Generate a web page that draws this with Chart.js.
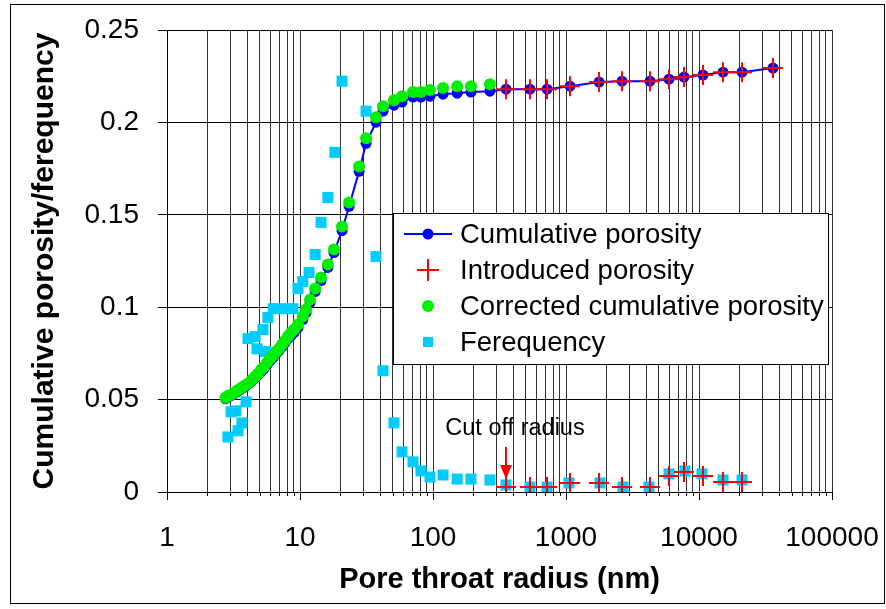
<!DOCTYPE html>
<html>
<head>
<meta charset="utf-8">
<script src="https://cdn.jsdelivr.net/npm/chart.js@4.4.1/dist/chart.umd.min.js"></script>
<style>
  html, body { margin: 0; padding: 0; background: #fff; }
  #wrap { width: 886px; height: 609px; }
</style>
</head>
<body>
<div id="wrap"><canvas id="myChart" width="886" height="609"></canvas></div>
<script>
// pore throat radius (nm) for the cumulative curves
const cumRadius = [2.75, 2.88, 3.03, 3.19, 3.36, 3.54, 3.73, 3.93, 4.14, 4.36, 4.59, 4.83, 5.09, 5.36, 5.65,
  5.95, 6.27, 6.60, 6.95, 7.32, 7.71, 8.12, 8.56, 9.02, 9.66, 10.5, 11.1, 11.9, 13.0, 14.4, 16.2, 18.0, 20.7,
  23.4, 27.8, 31.4, 37.3, 42.1, 50.9, 58.5, 70.7, 81.2, 94.9, 119, 152, 193, 268]
const cumPorosity = [0.0504, 0.0515, 0.0521, 0.0531, 0.0542, 0.0553, 0.0564, 0.0575, 0.0586, 0.0602, 0.0618,
  0.0634, 0.0651, 0.0667, 0.0689, 0.0710, 0.0727, 0.0748, 0.0765, 0.0786, 0.0808, 0.0830, 0.0846, 0.0862,
  0.0889, 0.0933, 0.0971, 0.1025, 0.1085, 0.1144, 0.1215, 0.1296, 0.1415, 0.1546, 0.1735, 0.1887, 0.2001,
  0.2061, 0.2093, 0.2110, 0.2137, 0.2137, 0.2142, 0.2153, 0.2158, 0.2164, 0.2169]
const correctedPorosity = [0.0510, 0.0521, 0.0526, 0.0537, 0.0548, 0.0559, 0.0569, 0.0580, 0.0591, 0.0607,
  0.0624, 0.0640, 0.0662, 0.0678, 0.0700, 0.0721, 0.0738, 0.0759, 0.0775, 0.0797, 0.0819, 0.0841, 0.0862,
  0.0879, 0.0906, 0.0949, 0.0987, 0.1041, 0.1101, 0.1161, 0.1231, 0.1312, 0.1437, 0.1567, 0.1762, 0.1914,
  0.2028, 0.2088, 0.2120, 0.2142, 0.2164, 0.2164, 0.2175, 0.2186, 0.2196, 0.2196, 0.2207]

// introduced porosity, beyond the cut off radius
const introRadius = [354, 536, 720, 1072, 1771, 2637, 4281, 5948, 7715, 10718, 15155, 21058, 36010]
const introPorosity = [0.2180, 0.2180, 0.2180, 0.2196, 0.2218, 0.2223, 0.2223, 0.2234, 0.2245, 0.2256,
  0.2272, 0.2272, 0.2294]
const introFrequency = [0.0027, 0.0027, 0.0027, 0.0049, 0.0049, 0.0027, 0.0027, 0.0087, 0.0108, 0.0087,
  0.0054, 0.0054]

// frequency
const freqRadius = [2.87, 3.03, 3.30, 3.42, 3.66, 3.93, 4.06, 4.59, 4.75, 5.27, 5.50, 5.74, 6.30, 7.45, 8.85,
  9.66, 10.5, 11.7, 13.0, 14.4, 16.2, 18.3, 20.7, 31.4, 37.3, 42.1, 50.9, 58.5, 70.7, 81.2, 94.9, 119, 152,
  193, 268, 354, 536, 720, 1053, 1801, 2683, 4208, 5948, 7850, 10534, 15155, 21058]
const frequency = [0.0298, 0.0434, 0.0439, 0.0331, 0.0374, 0.0488, 0.0830, 0.0841, 0.0775, 0.0879, 0.0760,
  0.0944, 0.0992, 0.0992, 0.0992, 0.1101, 0.1139, 0.1188, 0.1285, 0.1459, 0.1594, 0.1838, 0.2223, 0.2061,
  0.1274, 0.0656, 0.0374, 0.0217, 0.0163, 0.0114, 0.0081, 0.0092, 0.0070, 0.0070, 0.0065, 0.0038, 0.0027,
  0.0027, 0.0049, 0.0049, 0.0027, 0.0027, 0.0098, 0.0114, 0.0098, 0.0065, 0.0065]

const xLabels = [1, 10, 100, 1000, 10000, 100000]
const yTicks = [0, 0.05, 0.1, 0.15, 0.2, 0.25]
const legendLabels = ['Cumulative porosity', 'Introduced porosity', 'Corrected cumulative porosity', 'Ferequency']
const cutOffText = 'Cut off radius'
const cutOffRadius = 354

const FONT = "'Liberation Sans', Arial, sans-serif"
const BLUE = '#0000ff', RED = '#ff0000', GREEN = '#00ee00', CYAN = '#00ccff'

function toPoints(xs, ys) {
  return ys.map((y, i) => ({ x: xs[i], y: y }))
}

// keep the plot area where the layout padding puts it
function noScalePadding(scale) {
  scale.paddingLeft = 0
  scale.paddingRight = 0
  scale.paddingTop = 0
  scale.paddingBottom = 0
}

// frame, legend box, cut off arrow and minor ticks
const extras = {
  id: 'extras',
  beforeDraw(chart) {
    const ctx = chart.ctx
    ctx.save()
    ctx.fillStyle = '#fff'
    ctx.fillRect(0, 0, chart.width, chart.height)
    ctx.restore()
  },
  afterDraw(chart) {
    const ctx = chart.ctx
    const xs = chart.scales.x
    const area = chart.chartArea
    ctx.save()

    // minor ticks under the x axis
    ctx.strokeStyle = '#000'
    ctx.lineWidth = 1
    xs.ticks.forEach(t => {
      if (xLabels.includes(t.value)) return
      const px = Math.round(xs.getPixelForValue(t.value)) + 0.5
      ctx.beginPath()
      ctx.moveTo(px, area.bottom)
      ctx.lineTo(px, area.bottom + 4)
      ctx.stroke()
    })

    // cut off arrow + label
    const ax = xs.getPixelForValue(cutOffRadius)
    ctx.strokeStyle = RED
    ctx.fillStyle = RED
    ctx.lineWidth = 2
    ctx.beginPath()
    ctx.moveTo(ax, 447)
    ctx.lineTo(ax, 466)
    ctx.stroke()
    ctx.beginPath()
    ctx.moveTo(ax - 6, 465)
    ctx.lineTo(ax + 6, 465)
    ctx.lineTo(ax, 479)
    ctx.closePath()
    ctx.fill()
    ctx.fillStyle = '#000'
    ctx.font = `23.5px ${FONT}`
    ctx.textAlign = 'center'
    ctx.textBaseline = 'alphabetic'
    ctx.fillText(cutOffText, 515, 435)

    // legend
    const lx = 393.5, ly = 213.5, lw = 435, lh = 151
    ctx.fillStyle = '#fff'
    ctx.fillRect(lx, ly, lw, lh)
    ctx.strokeStyle = '#000'
    ctx.lineWidth = 1
    ctx.strokeRect(lx, ly, lw, lh)
    const rows = [234, 270, 306, 342]
    const mx = 428

    ctx.strokeStyle = BLUE
    ctx.lineWidth = 2
    ctx.beginPath()
    ctx.moveTo(404, rows[0])
    ctx.lineTo(452, rows[0])
    ctx.stroke()
    ctx.fillStyle = BLUE
    ctx.beginPath()
    ctx.arc(mx, rows[0], 5.5, 0, Math.PI * 2)
    ctx.fill()

    ctx.strokeStyle = RED
    ctx.beginPath()
    ctx.moveTo(mx - 11, rows[1])
    ctx.lineTo(mx + 11, rows[1])
    ctx.moveTo(mx, rows[1] - 11)
    ctx.lineTo(mx, rows[1] + 11)
    ctx.stroke()

    ctx.fillStyle = GREEN
    ctx.beginPath()
    ctx.arc(mx, rows[2], 6, 0, Math.PI * 2)
    ctx.fill()

    ctx.fillStyle = CYAN
    ctx.fillRect(mx - 5, rows[3] - 5, 10, 10)

    ctx.fillStyle = '#000'
    ctx.font = `27.5px ${FONT}`
    ctx.textAlign = 'left'
    ctx.textBaseline = 'middle'
    legendLabels.forEach((txt, i) => ctx.fillText(txt, 460, rows[i] + 1))

    // outer frame
    ctx.strokeStyle = '#000'
    ctx.lineWidth = 1
    ctx.strokeRect(10.5, 4.5, 874, 599)
    ctx.restore()
  }
}

function displayChart() {
  const ctx = document.getElementById('myChart').getContext('2d')
  new Chart(ctx, {
    type: 'scatter',
    data: {
      datasets: [
        {
          label: legendLabels[3],
          data: toPoints(freqRadius, frequency),
          pointStyle: 'rect',
          pointRadius: 7.8,
          pointBackgroundColor: CYAN,
          pointBorderWidth: 0,
          order: 4
        },
        {
          label: legendLabels[0],
          data: toPoints(cumRadius.concat(introRadius), cumPorosity.concat(introPorosity)),
          showLine: true,
          borderColor: BLUE,
          borderWidth: 2,
          pointRadius: 5.5,
          pointBackgroundColor: BLUE,
          pointBorderWidth: 0,
          order: 3
        },
        {
          label: legendLabels[2],
          data: toPoints(cumRadius, correctedPorosity),
          pointRadius: 6,
          pointBackgroundColor: GREEN,
          pointBorderWidth: 0,
          order: 2
        },
        {
          label: legendLabels[1],
          data: toPoints(introRadius, introPorosity),
          pointStyle: 'cross',
          pointRadius: 10,
          pointBorderColor: RED,
          pointBorderWidth: 2,
          order: 1
        },
        {
          label: legendLabels[1],
          data: toPoints(introRadius, introFrequency),
          pointStyle: 'cross',
          pointRadius: 10,
          pointBorderColor: RED,
          pointBorderWidth: 2,
          order: 1
        }
      ]
    },
    options: {
      responsive: false,
      devicePixelRatio: 1,
      animation: false,
      layout: { padding: { left: 10, top: 30, right: 54, bottom: 0 } },
      scales: {
        x: {
          type: 'logarithmic',
          position: 'bottom',
          min: 1,
          max: 100000,
          afterBuildTicks(scale) {
            const t = []
            for (let e = 0; e < 5; e++) {
              for (let m = 1; m < 10; m++) t.push({ value: m * 10 ** e })
            }
            t.push({ value: 100000 })
            scale.ticks = t
          },
          afterFit(scale) {
            scale.height = 117
            noScalePadding(scale)
          },
          ticks: {
            autoSkip: false,
            maxRotation: 0,
            padding: 21,
            color: '#000',
            font: { family: FONT, size: 28 },
            callback: v => xLabels.includes(v) ? String(v) : ''
          },
          grid: {
            color: c => (c.tick && c.tick.value === 1) ? 'rgba(0,0,0,0)' : '#333',
            tickColor: c => (c.tick && xLabels.includes(c.tick.value)) ? '#000' : 'rgba(0,0,0,0)',
            tickLength: 8,
            lineWidth: 1
          },
          border: { color: '#000', width: 1 },
          title: {
            display: true,
            text: 'Pore throat radius (nm)',
            color: '#000',
            font: { family: FONT, size: 29, weight: 'bold' },
            padding: { top: 0, bottom: 12 }
          }
        },
        y: {
          min: 0,
          max: 0.25,
          afterBuildTicks(scale) {
            scale.ticks = yTicks.map(v => ({ value: v }))
          },
          afterFit(scale) {
            scale.width = 157
            noScalePadding(scale)
          },
          ticks: {
            padding: 19,
            color: '#000',
            font: { family: FONT, size: 28 },
            callback: v => String(Math.round(v * 100) / 100)
          },
          grid: { color: '#000', tickColor: '#000', tickLength: 9, lineWidth: 1 },
          border: { color: '#000', width: 1 },
          title: {
            display: true,
            text: 'Cumulative porosity/ferequency',
            color: '#000',
            font: { family: FONT, size: 30, weight: 'bold' },
            padding: { top: 17, bottom: 0 }
          }
        }
      },
      plugins: {
        legend: { display: false },
        tooltip: { enabled: false }
      }
    },
    plugins: [extras]
  })
}

displayChart()
</script>
</body>
</html>
